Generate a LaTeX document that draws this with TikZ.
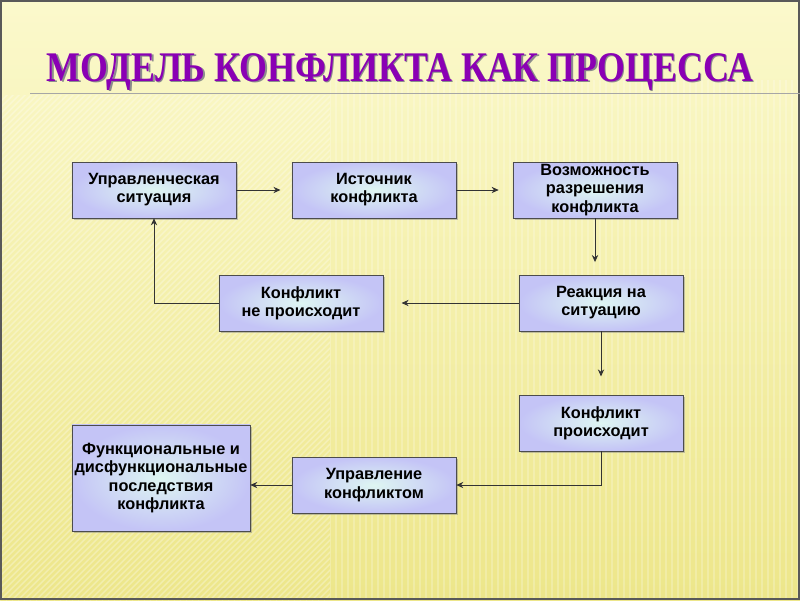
\documentclass[tikz,border=0pt]{standalone}
\usepackage{fontspec}
\setmainfont{Liberation Sans}
\newfontfamily\titlefont{Liberation Serif}
\usetikzlibrary{shadows,arrows.meta}

\definecolor{bgtop}{HTML}{FBF9CC}
\definecolor{bgbot}{HTML}{EDE68A}
\definecolor{boxout}{HTML}{C4C4F6}
\definecolor{boxin}{HTML}{DEF6F2}
\definecolor{titlecol}{HTML}{8A00B4}

\begin{document}
\begin{tikzpicture}[x=0.025cm, y=-0.025cm, >={Stealth[length=5pt,width=4.5pt]},
  box/.style={draw=black!70, inner color=boxin, outer color=boxout,
    minimum width=4.1cm, minimum height=1.4cm, inner sep=1pt, align=center,
    font=\bfseries\fontsize{11.6}{12.9}\selectfont,
    drop shadow={shadow xshift=1.2pt, shadow yshift=-1.2pt, opacity=.45}},
  link/.style={->, black!80, semithick}]
  \useasboundingbox (0,0) rectangle (800,600);
  % background
  \fill[top color=bgtop, bottom color=bgbot] (0,0) rectangle (800,600);
  \begin{scope}
    \clip (0,95) rectangle (330,600);
    \foreach \i in {-600,-594,...,330}
      \draw[white, opacity=.3, line width=1pt] (\i,600) -- ++(600,-600);
  \end{scope}
  \begin{scope}
    \clip (330,80) rectangle (800,600);
    \foreach \i in {330,336,...,800}
      \draw[white, opacity=.22, line width=1pt] (\i,80) -- (\i,600);
  \end{scope}
  \draw[black!65, line width=1.2pt] (1,1) rectangle (799,599);

  % title
  \node[text=black!45, font=\titlefont\bfseries\fontsize{30}{32}\selectfont, xscale=.85]
    (titleshadow) at (401.5,73.5) {МОДЕЛЬ КОНФЛИКТА КАК ПРОЦЕССА};
  \node[text=titlecol, font=\titlefont\bfseries\fontsize{30}{32}\selectfont, xscale=.85]
    (title) at (400,72) {МОДЕЛЬ КОНФЛИКТА КАК ПРОЦЕССА};
  \draw[black!35] (30,93) -- (800,93);

  % boxes
  \node[box] (sit)   at (154,190) {Управленческая\\ситуация};
  \node[box] (src)   at (374,190) {Источник\\конфликта};
  \node[box] (res)   at (595,190) {Возможность\\разрешения\\конфликта};
  \node[box] (none)  at (301,303) {Конфликт\\не происходит};
  \node[box] (react) at (601,303) {Реакция на\\ситуацию};
  \node[box] (occ)   at (601,423) {Конфликт\\происходит};
  \node[box] (mgmt)  at (374,485) {Управление\\конфликтом};
  \node[box, minimum width=4.45cm, minimum height=2.65cm] (cons) at (161,478)
    {Функциональные и\\дисфункциональные\\последствия\\конфликта};

  % connectors
  \draw[link, shorten >=8pt] (sit) -- (src);
  \draw[link, shorten >=10pt] (src) -- (res);
  \draw[link, shorten >=9pt] (res.south) -- (res.south |- react.north);
  \draw[link, shorten >=13pt] (react) -- (none);
  \draw[link] (none.west) -| (sit.south);
  \draw[link, shorten >=13pt] (react.south) -- (react.south |- occ.north);
  \draw[link] (occ.south) |- (mgmt.east);
  \draw[link] (mgmt.west) -- (mgmt.west -| cons.east);
\end{tikzpicture}
\end{document}
